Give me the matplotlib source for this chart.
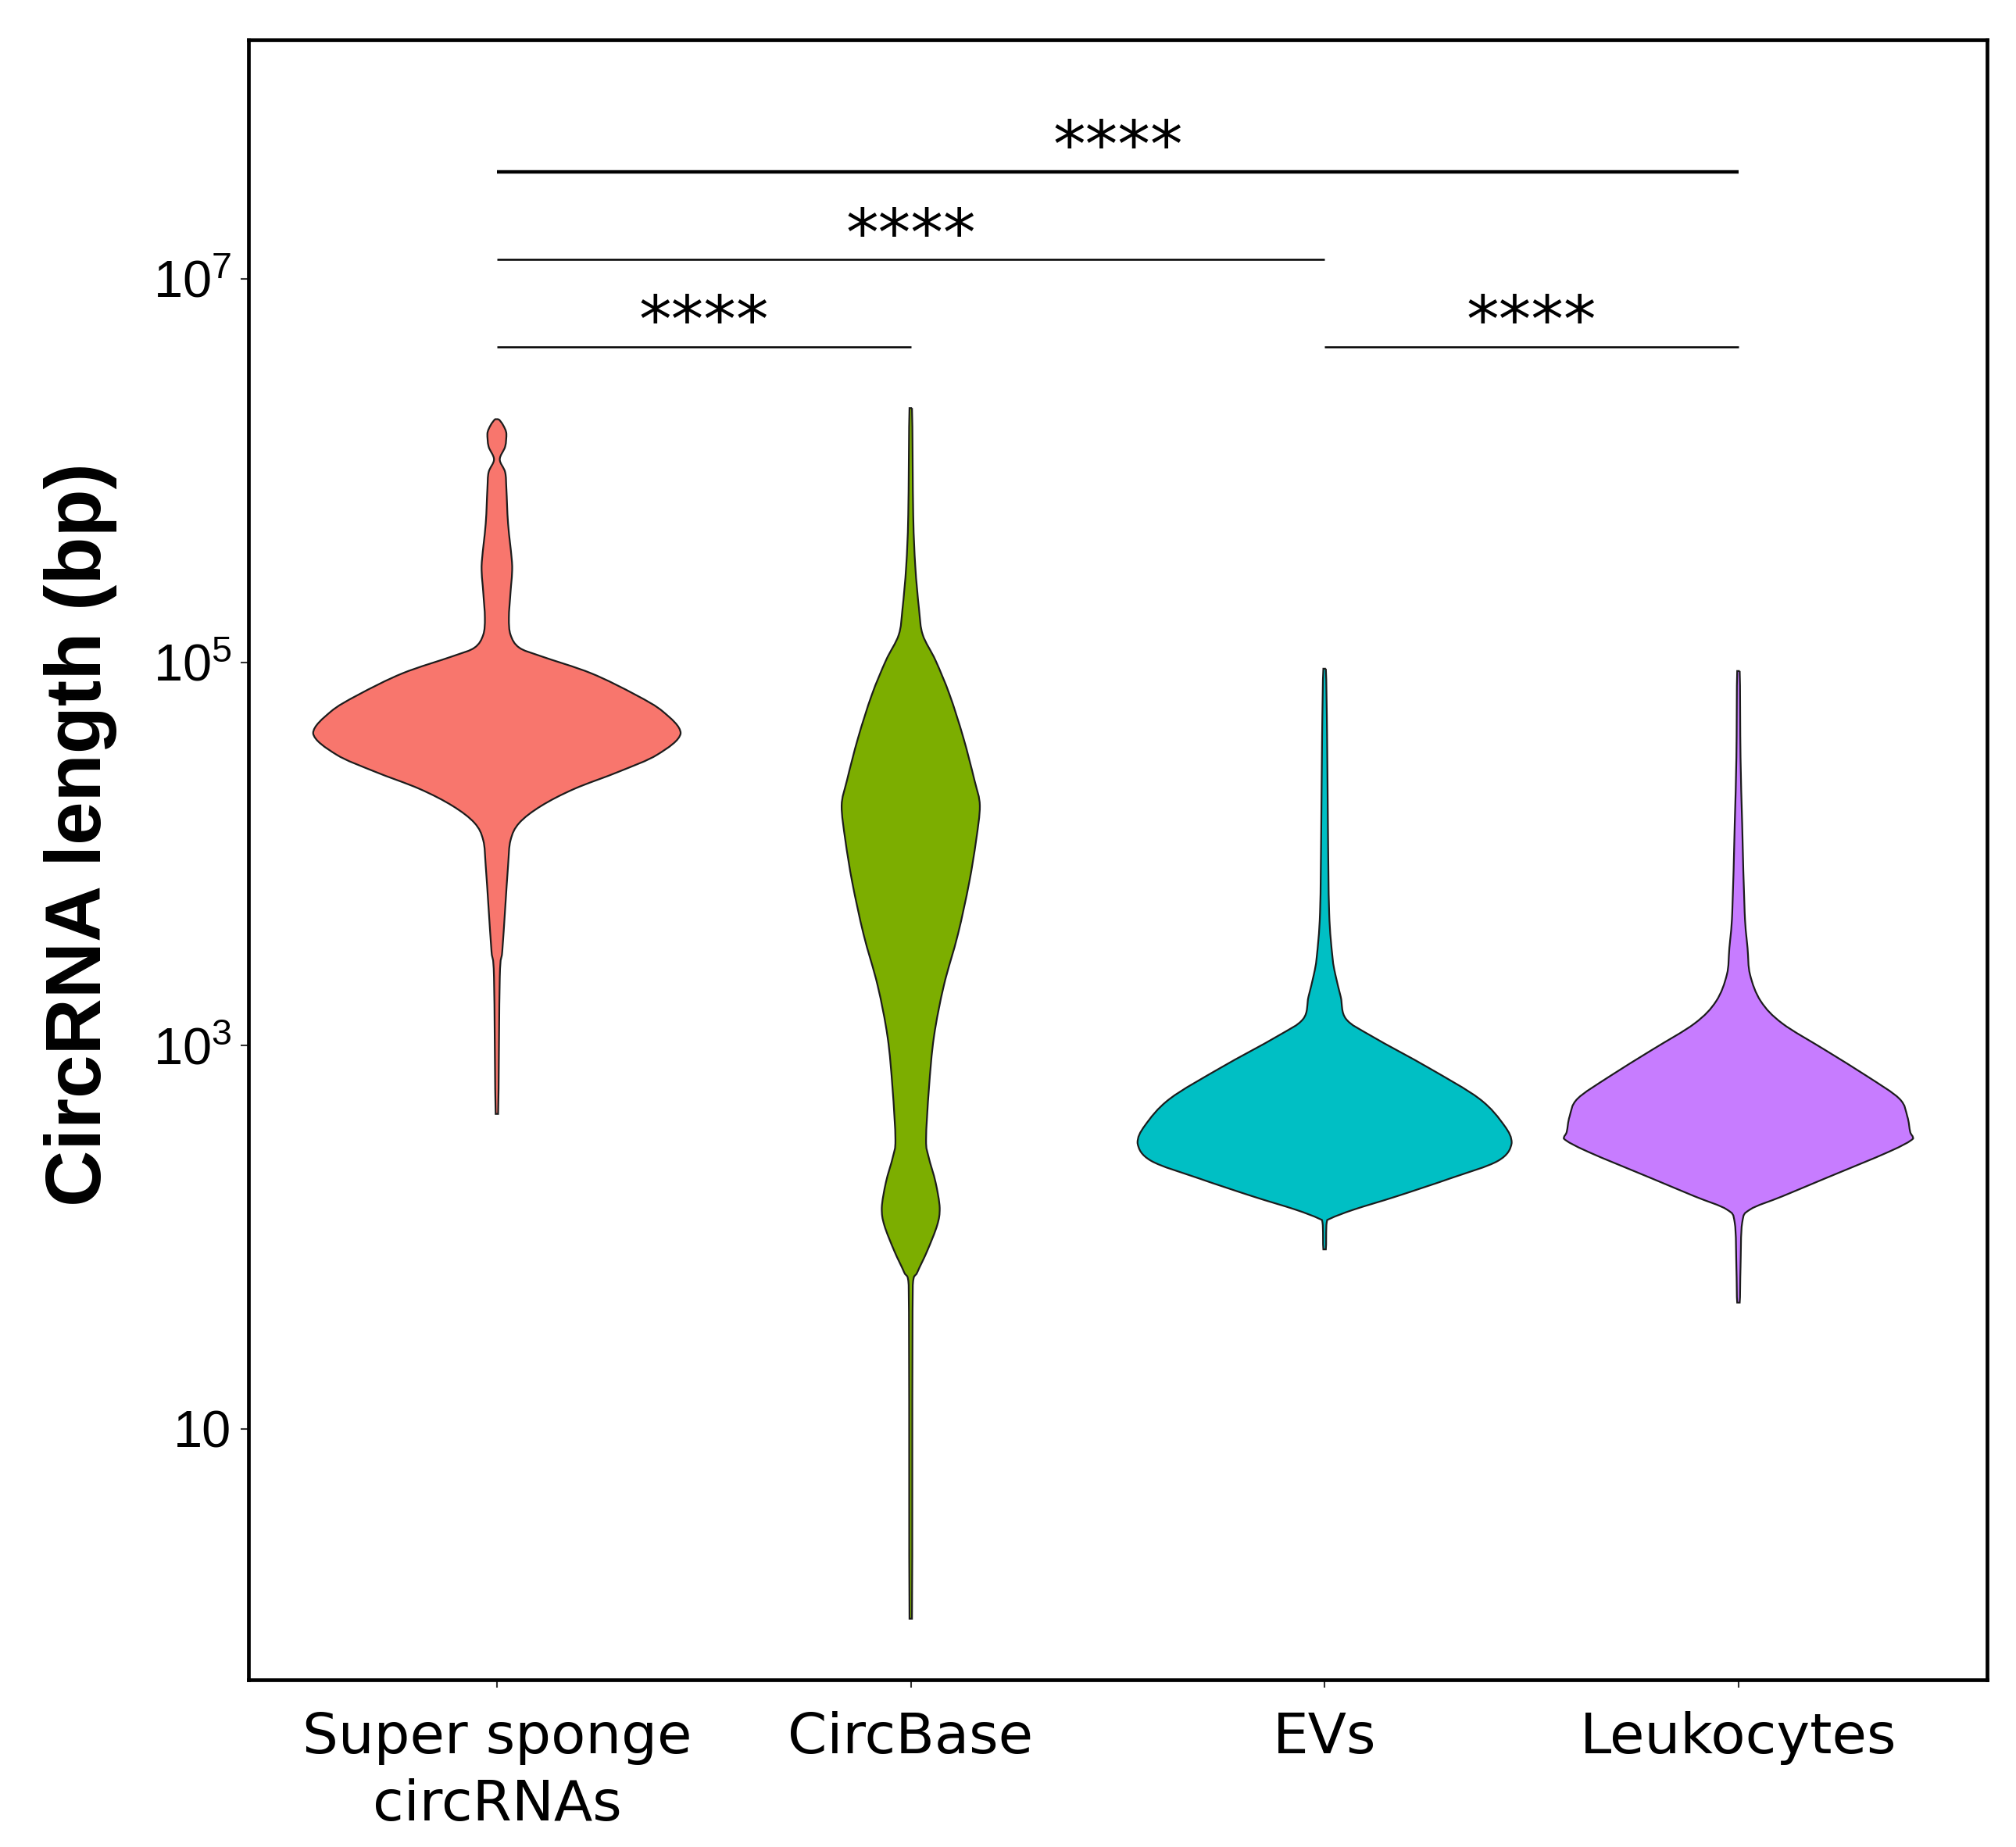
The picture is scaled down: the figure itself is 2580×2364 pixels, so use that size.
import numpy as np
import matplotlib
matplotlib.use("Agg")
import matplotlib.pyplot as plt
from matplotlib.path import Path
from matplotlib.patches import PathPatch

# ---------------- data ----------------
groups = ["Super sponge\ncircRNAs", "CircBase", "EVs", "Leukocytes"]
colors = ["#F8766D", "#7CAE00", "#00BFC4", "#C77CFF"]

# violin outlines: log10(length in bp) and half-width (x units)
sponge_log = [6.268, 6.237, 6.192, 6.125, 6.058, 5.991, 5.902, 5.723, 5.500, 5.366,
              5.232, 5.143, 5.076, 5.031, 4.942, 4.830, 4.741, 4.629, 4.518, 4.429,
              4.339, 4.250, 4.161, 4.071, 3.938, 3.714, 3.491, 3.357, 2.643]
sponge_w = [0.004, 0.015, 0.023, 0.020, 0.007, 0.020, 0.023, 0.027, 0.037, 0.033,
            0.029, 0.033, 0.054, 0.107, 0.228, 0.335, 0.402, 0.444, 0.388, 0.295,
            0.187, 0.107, 0.054, 0.033, 0.027, 0.020, 0.013, 0.007, 0.003]

circbase_log = [6.326, 5.768, 5.500, 5.277, 5.143, 5.009, 4.830, 4.607, 4.384, 4.250,
                4.071, 3.848, 3.580, 3.313, 3.045, 2.777, 2.509, 2.420, 2.286, 2.152,
                2.063, 1.929, 1.817, 1.750, 0.009]
circbase_w = [0.003, 0.006, 0.011, 0.020, 0.029, 0.060, 0.094, 0.127, 0.154, 0.167,
              0.158, 0.141, 0.114, 0.080, 0.056, 0.044, 0.037, 0.043, 0.060, 0.070,
              0.064, 0.040, 0.016, 0.005, 0.003]

evs_log = [4.966, 4.619, 4.156, 3.694, 3.462, 3.370, 3.254, 3.138, 3.046, 2.884,
           2.722, 2.583, 2.491, 2.398, 2.306, 2.213, 2.144, 2.098, 2.075, 1.936]
evs_w = [0.003, 0.006, 0.008, 0.011, 0.019, 0.026, 0.039, 0.052, 0.116, 0.251,
         0.374, 0.434, 0.452, 0.419, 0.303, 0.174, 0.071, 0.015, 0.005, 0.003]

leuko_log = [4.954, 4.503, 4.156, 3.694, 3.508, 3.370, 3.231, 3.115, 2.977, 2.838,
             2.722, 2.630, 2.549, 2.514, 2.445, 2.306, 2.213, 2.144, 2.075, 1.843, 1.658]
leuko_w = [0.003, 0.005, 0.009, 0.015, 0.022, 0.028, 0.054, 0.106, 0.209, 0.312,
           0.389, 0.408, 0.415, 0.422, 0.363, 0.209, 0.106, 0.028, 0.009, 0.005, 0.003]

violin_logs = [sponge_log, circbase_log, evs_log, leuko_log]
violin_ws = [sponge_w, circbase_w, evs_w, leuko_w]

# significance brackets: (group from, group to, log10 height, label)
bracket_from = [1, 1, 3, 1]
bracket_to = [2, 3, 4, 4]
bracket_log = [6.645, 7.10, 6.645, 7.56]
bracket_label = ["****", "****", "****", "****"]

ytick_vals = [10, 1e3, 1e5, 1e7]
ytick_labels = ["10", r"$10^{3}$", r"$10^{5}$", r"$10^{7}$"]

# ---------------- drawing ----------------
plt.rcParams["mathtext.fontset"] = "custom"
plt.rcParams["mathtext.rm"] = "Liberation Sans"
plt.rcParams["mathtext.it"] = "Liberation Sans:italic"
plt.rcParams["mathtext.bf"] = "Liberation Sans:bold"

fig = plt.figure(figsize=(25.8, 23.64), dpi=100)
ax = fig.add_axes([0.1233, 0.0905, 0.8622, 0.8881])
ax.set_yscale("log")
ax.set_ylim(10 ** -0.31, 10 ** 8.249)
ax.set_xlim(0.4, 4.6)


def smooth_outline(pos, lg, w):
    """Closed Bezier outline through the read points (Catmull-Rom control points,
    clamped per segment so the curve never overshoots), built in (x, log10 y)
    space and mapped back to bp for the log axis."""
    lg = np.asarray(lg, float)
    w = np.asarray(w, float)
    right = np.column_stack([pos + w, lg])
    left = np.column_stack([pos - w, lg])[::-1]
    pts = np.vstack([right, left])
    n = len(pts)
    verts = [pts[0]]
    codes = [Path.MOVETO]
    for i in range(n):
        p0, p1, p2, p3 = pts[i - 1], pts[i], pts[(i + 1) % n], pts[(i + 2) % n]
        lo = np.minimum(p1, p2)
        hi = np.maximum(p1, p2)
        c1 = np.clip(p1 + (p2 - p0) / 6.0, lo, hi)
        c2 = np.clip(p2 - (p3 - p1) / 6.0, lo, hi)
        verts += [c1, c2, p2]
        codes += [Path.CURVE4] * 3
    verts = np.array(verts)
    verts[:, 1] = 10 ** verts[:, 1]
    return Path(verts, codes)


positions = np.arange(1, len(groups) + 1)
for pos, lg, w, c in zip(positions, violin_logs, violin_ws, colors):
    patch = PathPatch(smooth_outline(pos, lg, w), facecolor=c, edgecolor="#1c1c1c",
                      linewidth=1.6, transform=ax.transData, zorder=2)
    ax.add_patch(patch)

for f, t, h, lab, lw in zip(bracket_from, bracket_to, bracket_log, bracket_label,
                            [1.8, 1.8, 1.8, 3.2]):
    yy = 10 ** h
    ax.plot([f, t], [yy, yy], color="black", linewidth=lw, solid_capstyle="butt", zorder=3)
    ax.annotate(lab, xy=((f + t) / 2, yy), xytext=(0, 4), textcoords="offset points",
                ha="center", va="baseline", fontsize=60, family="DejaVu Sans",
                color="black")

ax.set_xticks(positions)
ax.set_xticklabels(groups, fontsize=52, family="DejaVu Sans", color="black",
                   linespacing=1.33)
ax.set_yticks(ytick_vals)
ax.set_yticklabels(ytick_labels, fontsize=48, family="Liberation Sans", color="black")
ax.yaxis.set_minor_locator(matplotlib.ticker.NullLocator())
ax.tick_params(axis="both", which="major", length=7.5, width=1.5, color="#333333")
ax.tick_params(axis="x", pad=21)
ax.tick_params(axis="y", pad=8)

for s in ax.spines.values():
    s.set_linewidth(3.4)
    s.set_color("black")

fig.text(103 / 2580, 0.548, "CircRNA length (bp)", rotation=90, ha="center",
         va="center", fontsize=72, fontweight="bold", family="Liberation Sans")

fig.savefig("out.png", dpi=100, facecolor="white")
